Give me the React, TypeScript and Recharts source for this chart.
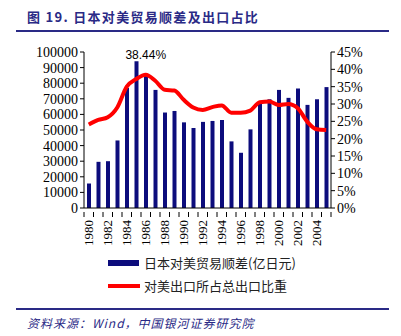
import React from 'react';
import { ComposedChart, Bar, Line, XAxis, YAxis, LabelList } from 'recharts';

const years = [
  '1980', '1981', '1982', '1983', '1984', '1985', '1986', '1987', '1988', '1989',
  '1990', '1991', '1992', '1993', '1994', '1995', '1996', '1997', '1998', '1999',
  '2000', '2001', '2002', '2003', '2004', '2005',
];
// 日本对美贸易顺差(亿日元)
const surplus = [
  15700, 29600, 30000, 43300, 77000, 94000, 85000, 75700, 61200, 62200,
  54900, 51300, 55200, 55800, 56400, 42700, 35400, 50400, 67200, 69700,
  75700, 70600, 76600, 66100, 69700, 77500,
];
// 对美出口所占总出口比重
const share = [
  0.241, 0.254, 0.262, 0.29, 0.35, 0.372, 0.3844, 0.367, 0.341, 0.339,
  0.312, 0.29, 0.283, 0.291, 0.296, 0.275, 0.275, 0.281, 0.305, 0.307,
  0.297, 0.3, 0.288, 0.249, 0.227, 0.225,
];
const leftTicks = [0, 10000, 20000, 30000, 40000, 50000, 60000, 70000, 80000, 90000, 100000];
const rightTicks = [0, 0.05, 0.1, 0.15, 0.2, 0.25, 0.3, 0.35, 0.4, 0.45];
const peakIndex = 6;

const data = years.map((y, i) => ({ year: y, surplus: surplus[i], share: share[i] }));

const NAVY = '#0c0c7c';
const RED = '#ff0000';
const TITLE = '#2a2a86';
const SERIF = '"Liberation Serif", "Times New Roman", serif';
const CJK = '"Noto Sans CJK SC", sans-serif';

const PLOT_LEFT = 84;
const PLOT_RIGHT = 331;
const BAND = (PLOT_RIGHT - PLOT_LEFT) / years.length;

const YearTick = (props: any) => {
  const { x, y, payload, index } = props;
  const show = index % 2 === 0;
  const isLast = index === years.length - 1;
  return (
    <g>
      <line x1={x - BAND / 2} y1={y - 4} x2={x - BAND / 2} y2={y + 1} stroke="#000" strokeWidth={1} />
      {isLast && (
        <line x1={x + BAND / 2} y1={y - 4} x2={x + BAND / 2} y2={y + 1} stroke="#000" strokeWidth={1} />
      )}
      {show && (
        <text
          x={x}
          y={y + 4}
          transform={`rotate(-90, ${x}, ${y + 4})`}
          textAnchor="end"
          dominantBaseline="central"
          fontFamily={SERIF}
          fontSize={13}
          fill="#000"
        >
          {payload.value}
        </text>
      )}
    </g>
  );
};

const PeakLabel = (props: any) => {
  const { x, y, index, value } = props;
  if (index !== peakIndex) return null;
  return (
    <text x={x} y={y - 16} textAnchor="middle" fontFamily={'"Liberation Sans", Arial, sans-serif'} fontSize={12} fill="#000">
      {`${(value * 100).toFixed(2)}%`}
    </text>
  );
};

export default function App() {
  return (
    <div style={{ position: 'absolute', left: 0, top: 0, width: 401, height: 336, background: '#fff' }}>
      <div style={{ position: 'absolute', left: 27, top: 7, fontFamily: CJK, fontWeight: 700, fontSize: 13, color: TITLE, letterSpacing: 1.3, whiteSpace: 'nowrap' }}>
        图 19. 日本对美贸易顺差及出口占比
      </div>
      <div style={{ position: 'absolute', left: 16, top: 30, width: 373, height: 2, background: TITLE }} />

      <div style={{ position: 'absolute', left: 0, top: 0 }}>
        <ComposedChart width={401} height={250} data={data} margin={{ top: 52, right: 0, bottom: 0, left: 0 }}>
          <XAxis
            dataKey="year"
            interval={0}
            tickLine={false}
            axisLine={{ stroke: '#000' }}
            height={42}
            tick={<YearTick />}
          />
          <YAxis
            yAxisId="left"
            orientation="left"
            width={84}
            domain={[0, 100000]}
            ticks={leftTicks}
            interval={0}
            axisLine={{ stroke: '#000' }}
            tickLine={{ stroke: '#000' }}
            tickSize={4}
            tick={{ fontFamily: SERIF, fontSize: 14, fill: '#000' }}
          />
          <YAxis
            yAxisId="right"
            orientation="right"
            width={70}
            domain={[0, 0.45]}
            ticks={rightTicks}
            interval={0}
            axisLine={{ stroke: '#000' }}
            tickLine={{ stroke: '#000' }}
            tickSize={4}
            tickFormatter={(v: number) => `${Math.round(v * 100)}%`}
            tick={{ fontFamily: SERIF, fontSize: 14, fill: '#000' }}
          />
          <Bar yAxisId="left" dataKey="surplus" fill={NAVY} barSize={4} isAnimationActive={false} />
          <Line
            yAxisId="right"
            dataKey="share"
            type="monotone"
            stroke={RED}
            strokeWidth={4}
            dot={false}
            isAnimationActive={false}
          >
            <LabelList dataKey="share" content={<PeakLabel />} />
          </Line>
        </ComposedChart>
      </div>

      <div style={{ position: 'absolute', left: 108, top: 252, fontFamily: CJK, fontSize: 13, color: '#222', lineHeight: '22px' }}>
        <div style={{ display: 'flex', alignItems: 'center' }}>
          <span style={{ display: 'inline-block', width: 31, height: 6, background: NAVY, marginRight: 5 }} />
          日本对美贸易顺差(亿日元)
        </div>
        <div style={{ display: 'flex', alignItems: 'center', marginTop: 1 }}>
          <span style={{ display: 'inline-block', width: 32, height: 4, background: RED, marginRight: 4 }} />
          对美出口所占总出口比重
        </div>
      </div>

      <div style={{ position: 'absolute', left: 16, top: 308, width: 373, height: 2, background: TITLE }} />
      <div style={{ position: 'absolute', left: 27, top: 314, fontFamily: CJK, fontStyle: 'italic', fontSize: 12, color: TITLE, whiteSpace: 'nowrap', letterSpacing: 1 }}>
        资料来源：Wind，中国银河证券研究院
      </div>
    </div>
  );
}
